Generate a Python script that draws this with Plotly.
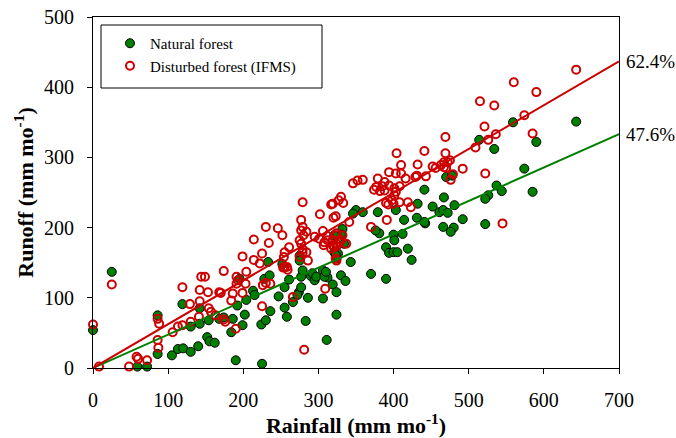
import plotly.graph_objects as go

# Monthly rainfall vs runoff (mm per month)
natural_rain = [0, 25, 59, 72, 86, 86, 105, 113, 120, 119, 130, 130, 140, 142, 142, 152, 155, 154,
                162, 168, 174, 184, 186, 190, 192, 195, 199, 202, 204, 213, 215, 224, 225, 228, 230,
                233, 235, 236, 247, 252, 255, 255, 258, 261, 266, 274, 275, 277, 279, 283, 286, 290,
                295, 306, 306, 311, 312, 319, 324, 324, 326, 272, 277, 292, 297, 308, 310, 275, 324,
                330, 336, 343, 370, 390, 424, 390, 394, 400, 405, 419, 381, 376, 400, 412, 401, 442,
                466, 480, 476, 492, 522, 350, 359, 346, 379, 403, 414, 431, 332, 330, 321, 334, 321,
                323, 441, 441, 432, 452, 461, 466, 472, 470, 478, 467, 481, 514, 534, 559, 590, 574,
                537, 544, 526, 522, 585, 643]
natural_runoff = [54, 137, 2, 2, 75, 20, 18, 27, 28, 91, 23, 59, 31, 63, 85, 44, 38, 68,
                  36, 70, 72, 51, 70, 11, 89, 127, 61, 76, 97, 110, 104, 62, 6, 127, 68,
                  151, 132, 81, 102, 148, 115, 86, 73, 126, 94, 108, 160, 130, 139, 67, 100, 131,
                  125, 99, 139, 40, 129, 119, 108, 76, 163, 104, 115, 135, 130, 130, 137, 153, 156,
                  132, 124, 151, 134, 127, 154, 172, 164, 165, 165, 170, 192, 196, 190, 191, 182, 206,
                  201, 200, 194, 212, 205, 225, 222, 220, 222, 225, 211, 214, 198, 190, 189, 177, 165,
                  161, 208, 254, 234, 230, 222, 225, 221, 272, 274, 243, 232, 325, 312, 350, 322, 284,
                  260, 252, 246, 241, 251, 351]

disturbed_rain = [0, 8, 25, 48, 58, 60, 72, 86, 88, 86, 87, 106, 113, 119, 119, 129, 130, 141,
                  142, 142, 144, 149, 153, 154, 157, 163, 176, 174, 170, 174, 186, 184, 190, 191, 191,
                  193, 199, 199, 203, 204, 214, 214, 222, 225, 225, 230, 230, 246, 252, 234, 236, 254,
                  255, 258, 261, 266, 275, 275, 277, 281, 286, 279, 295, 301, 308, 309, 319, 324, 323,
                  324, 279, 317, 327, 302, 277, 320, 323, 277, 280, 284, 306, 312, 324, 328, 255, 279,
                  279, 284, 307, 312, 321, 410, 432, 452, 463, 470, 472, 410, 431, 443, 456, 394, 403,
                  416, 429, 379, 388, 394, 377, 374, 385, 382, 388, 401, 408, 346, 352, 359, 403, 401,
                  398, 390, 393, 400, 408, 419, 423, 330, 333, 319, 341, 370, 391, 332, 319, 330, 337,
                  324, 317, 324, 521, 469, 585, 536, 526, 509, 469, 475, 467, 467, 492, 479, 476, 522,
                  545, 643, 560, 590, 515, 534, 574, 441, 404, 168, 226, 253, 259]
disturbed_runoff = [62, 2, 119, 2, 16, 13, 11, 70, 63, 40, 29, 51, 59, 61, 115, 91, 66, 73,
                    95, 111, 130, 130, 108, 85, 80, 75, 66, 69, 107, 138, 106, 96, 56, 130, 120,
                    125, 159, 107, 120, 137, 183, 154, 149, 163, 88, 121, 201, 199, 189, 178, 120, 158,
                    144, 144, 172, 101, 158, 182, 177, 26, 153, 201, 187, 184, 179, 113, 175, 177, 156,
                    189, 236, 233, 239, 219, 211, 214, 216, 196, 189, 194, 195, 188, 192, 179, 165, 169,
                    164, 165, 175, 182, 172, 289, 290, 287, 289, 285, 293, 277, 274, 273, 285, 279, 277,
                    270, 272, 270, 265, 260, 258, 254, 259, 252, 253, 256, 259, 263, 267, 268, 251, 246,
                    239, 235, 233, 234, 236, 236, 229, 244, 235, 234, 208, 201, 211, 189, 182, 182, 177,
                    173, 170, 153, 344, 329, 334, 333, 325, 314, 306, 296, 293, 286, 284, 276, 268, 277,
                    206, 425, 407, 393, 380, 374, 360, 309, 306, 108, 118, 143, 140]

# Runoff coefficients (fitted lines through the origin)
natural_slope = 0.476
disturbed_slope = 0.624
line_x = [0, 700]

GREEN = "#008000"
RED = "#cc0000"
FONT = "Liberation Serif"

fig = go.Figure()

fig.add_trace(go.Scatter(
    x=natural_rain, y=natural_runoff, mode="markers", name="Natural forest",
    marker=dict(symbol="circle", size=9, color=GREEN, line=dict(color="black", width=1)),
    cliponaxis=False,
))
fig.add_trace(go.Scatter(
    x=disturbed_rain, y=disturbed_runoff, mode="markers", name="Disturbed forest (IFMS)",
    marker=dict(symbol="circle-open", size=8, color=RED, line=dict(color=RED, width=2)),
    cliponaxis=False,
))
fig.add_trace(go.Scatter(
    x=line_x, y=[natural_slope * v for v in line_x], mode="lines",
    line=dict(color=GREEN, width=2), showlegend=False, hoverinfo="skip",
))
fig.add_trace(go.Scatter(
    x=line_x, y=[disturbed_slope * v for v in line_x], mode="lines",
    line=dict(color=RED, width=2), showlegend=False, hoverinfo="skip",
))

for slope in (disturbed_slope, natural_slope):
    fig.add_annotation(
        x=700, y=slope * 700, xref="x", yref="y",
        text=f"{slope * 100:.1f}%", showarrow=False,
        xanchor="left", yanchor="middle", xshift=5,
        font=dict(family=FONT, size=19, color="black"),
    )

# Legend frame
fig.add_shape(type="rect", xref="paper", yref="paper",
              x0=(101 - 93) / 526, x1=(322 - 93) / 526,
              y0=(368 - 88) / 351, y1=(368 - 25) / 351,
              line=dict(color="black", width=1), fillcolor="rgba(0,0,0,0)")

axis_common = dict(
    showline=True, linecolor="black", linewidth=1, mirror=True,
    ticks="outside", ticklen=5, tickcolor="black", tickwidth=1,
    showgrid=False, zeroline=False, automargin=False,
    tickfont=dict(family=FONT, size=20, color="black"),
)

fig.update_layout(
    width=676, height=438,
    margin=dict(l=93, r=57, t=17, b=70),
    paper_bgcolor="white", plot_bgcolor="white",
    font=dict(family=FONT, color="black"),
    showlegend=True,
    legend=dict(
        x=(110 - 93) / 526, y=(368 - 27) / 351, xanchor="left", yanchor="top",
        bgcolor="rgba(0,0,0,0)", borderwidth=0,
        font=dict(family=FONT, size=15, color="black"),
        tracegroupgap=0,
    ),
    xaxis=dict(
        range=[0, 700], tickvals=[0, 100, 200, 300, 400, 500, 600, 700],
        ticklabelstandoff=9,
        title=dict(text="<b>Rainfall (mm mo<sup>-1</sup>)</b>", standoff=18,
                   font=dict(family=FONT, size=22, color="black")),
        **axis_common,
    ),
    yaxis=dict(
        range=[0, 500], tickvals=[0, 100, 200, 300, 400, 500],
        ticklabelstandoff=9,
        title=dict(text="<b>Runoff (mm mo<sup>-1</sup>)</b>", standoff=4,
                   font=dict(family=FONT, size=22, color="black")),
        **axis_common,
    ),
)

fig.write_html("out.html")
